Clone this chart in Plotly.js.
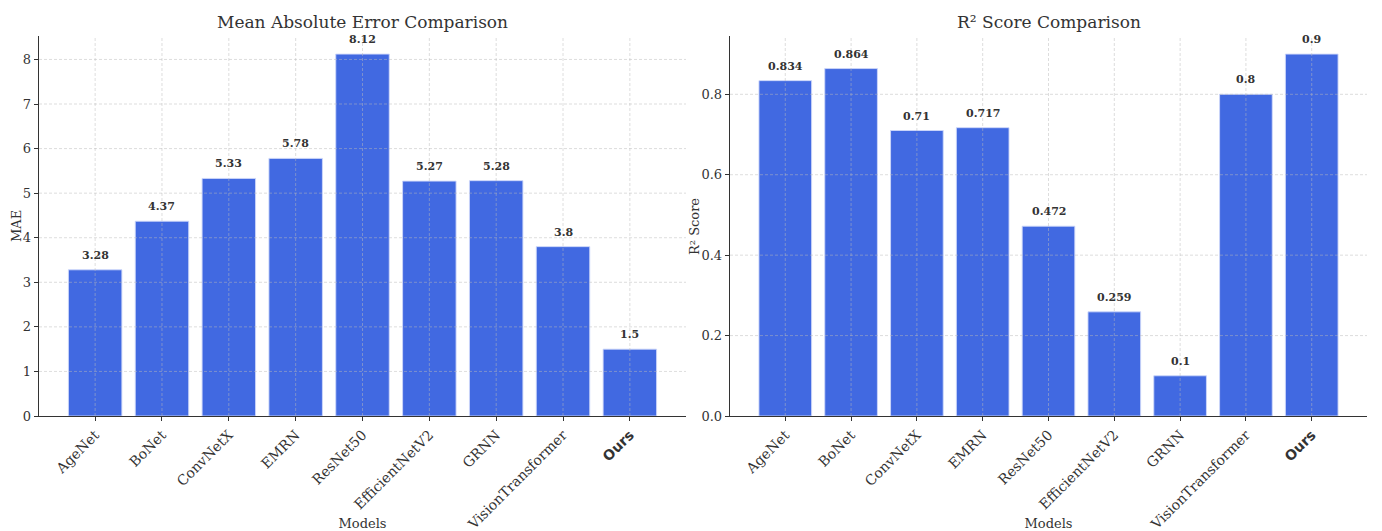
<!DOCTYPE html>
<html><head><meta charset="utf-8">
<script src="https://cdn.plot.ly/plotly-3.0.1.min.js"></script>
<style>html,body{margin:0;padding:0;background:#fff}#c{width:1382px;height:531px}</style>
</head><body><div id="c"></div>
<script>
const models = ["AgeNet","BoNet","ConvNetX","EMRN","ResNet50","EfficientNetV2","GRNN","VisionTransformer","Ours"];
const maeValues = [3.28, 4.37, 5.33, 5.78, 8.12, 5.27, 5.28, 3.8, 1.5];
const r2Values = [0.834, 0.864, 0.71, 0.717, 0.472, 0.259, 0.1, 0.8, 0.9];
const maeTicks = [0,1,2,3,4,5,6,7,8];
const r2Ticks = [0,0.2,0.4,0.6,0.8];

const serif = "DejaVu Serif";
const ink = "#333333";
const barColor = "#4169E1";
const idx = models.map((m,i)=>i);
const tickText = models.map(m => m === "Ours" ? '<span style="font-family:DejaVu Sans;font-weight:bold">Ours</span>' : m);

function barTrace(vals, xa, ya){
  return {type:"bar", x: idx, y: vals, xaxis: xa, yaxis: ya,
    marker:{color: barColor, line:{color:"rgba(205,215,250,0.9)", width:1}},
    hoverinfo:"none", showlegend:false};
}
function labelAnns(vals, xa, ya, fmt){
  return vals.map((v,i)=>({x:i, y:v, xref:xa, yref:ya, text:"<b>"+fmt(v)+"</b>", showarrow:false,
    yanchor:"bottom", yshift:6, font:{family:serif, size:11, color:ink}}));
}
function gridShapes(xa, ya, yticks){
  const s = [];
  const gl = {color:"rgba(185,185,185,0.7)", width:0.7, dash:"3px,2px"};
  idx.forEach(i=>s.push({type:"line", xref:xa, yref:ya+" domain", x0:i, x1:i, y0:0, y1:1, line:gl, layer:"above"}));
  yticks.forEach(t=>{ if(t>0) s.push({type:"line", xref:xa+" domain", yref:ya, x0:0, x1:1, y0:t, y1:t, line:gl, layer:"above"}); });
  return s;
}
const xCommon = {range:[-0.84, 8.84], tickmode:"array", tickvals: idx, ticktext: tickText, tickangle:-45,
  showgrid:false, zeroline:false, showline:true, linecolor:ink, linewidth:1.3, ticks:"outside", ticklen:4, tickcolor:ink,
  tickfont:{family:serif, size:14, color:ink}, automargin:false,
  title:{text:"Models", font:{family:serif, size:13, color:ink}, standoff:9}};
const yCommon = {showgrid:false, zeroline:false, showline:true, linecolor:ink, linewidth:1.3, ticks:"outside", ticklen:4, tickcolor:ink,
  tickfont:{family:serif, size:13, color:ink}, automargin:false};

const L = [39, 686], R = [730, 1367];
const midY = 0.5;
const layout = {
  width:1382, height:531, paper_bgcolor:"#fff", plot_bgcolor:"#fff",
  margin:{l:0, r:0, t:36, b:115}, bargap:0.2,
  xaxis: Object.assign({}, xCommon, {domain:[L[0]/1382, L[1]/1382], anchor:"y"}),
  yaxis: Object.assign({}, yCommon, {domain:[0,1], anchor:"x", range:[0, 8.526], tickvals: maeTicks, ticktext: maeTicks.map(String)}),
  xaxis2: Object.assign({}, xCommon, {domain:[R[0]/1382, R[1]/1382], anchor:"y2"}),
  yaxis2: Object.assign({}, yCommon, {domain:[0,1], anchor:"x2", range:[0, 0.945], tickvals: r2Ticks, ticktext: r2Ticks.map(v=>v.toFixed(1))}),
  annotations: [].concat(
    labelAnns(maeValues, "x", "y", v=>String(v)),
    labelAnns(r2Values, "x2", "y2", v=>String(v)),
    [{text:"Mean Absolute Error Comparison", xref:"paper", yref:"paper", x:(L[0]+L[1])/2/1382, xanchor:"center", y:1, yshift:2, yanchor:"bottom", showarrow:false, font:{family:serif, size:17, color:ink}},
     {text:"R² Score Comparison", xref:"paper", yref:"paper", x:(R[0]+R[1])/2/1382, xanchor:"center", y:1, yshift:2, yanchor:"bottom", showarrow:false, font:{family:serif, size:17, color:ink}},
     {text:"MAE", xref:"paper", yref:"paper", x:16/1382, y:midY, xanchor:"center", yanchor:"middle", textangle:-90, showarrow:false, font:{family:serif, size:13, color:ink}},
     {text:"R² Score", xref:"paper", yref:"paper", x:694/1382, y:midY, xanchor:"center", yanchor:"middle", textangle:-90, showarrow:false, font:{family:serif, size:13, color:ink}}]
  ),
  shapes: [].concat(gridShapes("x","y",maeTicks), gridShapes("x2","y2",r2Ticks))
};
Plotly.newPlot("c", [barTrace(maeValues,"x","y"), barTrace(r2Values,"x2","y2")], layout, {displayModeBar:false, staticPlot:true});
</script></body></html>
